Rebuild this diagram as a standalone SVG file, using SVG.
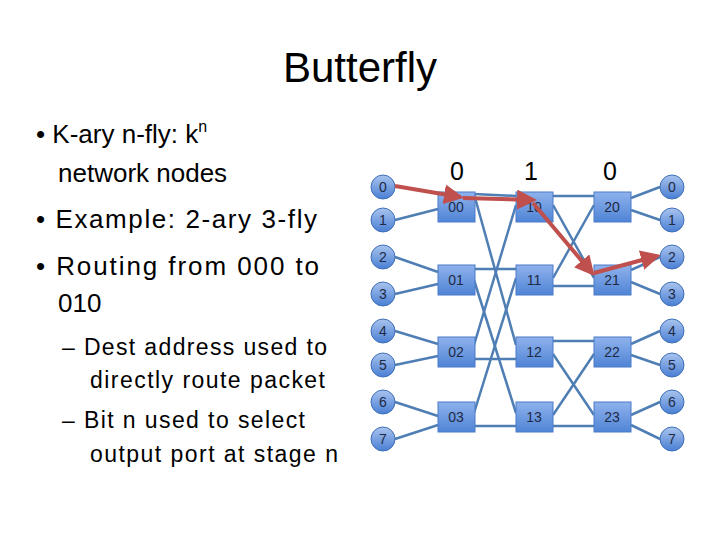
<svg xmlns="http://www.w3.org/2000/svg" width="720" height="540" viewBox="0 0 720 540">
<defs>
<linearGradient id="cg" x1="0" y1="0" x2="0" y2="1"><stop offset="0" stop-color="#a9c4ee"/><stop offset="1" stop-color="#4a7fd4"/></linearGradient>
<linearGradient id="bg" x1="0" y1="0" x2="0" y2="1"><stop offset="0" stop-color="#8fb2ec"/><stop offset="1" stop-color="#4f84d6"/></linearGradient>
<marker id="ah" viewBox="0 0 10 10" refX="8" refY="5" markerWidth="5" markerHeight="5" orient="auto"><path d="M0,0L10,5L0,10z" fill="#c0504d"/></marker>
<style>
.t{font-family:"Liberation Sans",Arial,sans-serif;fill:#000}
.c circle{fill:url(#cg);stroke:#3f6fb8;stroke-width:1}
.n rect{fill:url(#bg);stroke:#4a7bc8;stroke-width:1}
.l{font-family:"Liberation Sans",Arial,sans-serif;font-size:14px;fill:#1f2a44;text-anchor:middle}
.e line{stroke:#4f7eb4;stroke-width:2.5}
.r line{stroke:#c0504d;stroke-width:4;marker-end:url(#ah)}
</style>
</defs>
<rect width="720" height="540" fill="#fff"/>
<text class="t" x="360" y="82" font-size="42" text-anchor="middle">Butterfly</text>
<g class="t" font-size="26">
<text x="36" y="143">• K-ary n-fly: k<tspan font-size="16" dy="-11">n</tspan></text>
<text x="58" y="182">network nodes</text>
<text x="36" y="228" textLength="281">• Example: 2-ary 3-fly</text>
<text x="36" y="275" textLength="283">• Routing from 000 to</text>
<text x="58" y="312">010</text>
</g>
<g class="t" font-size="23">
<text x="62" y="355" textLength="265">– Dest address used to</text>
<text x="90" y="388" textLength="235">directly route packet</text>
<text x="62" y="428" textLength="243">– Bit n used to select</text>
<text x="90" y="462" textLength="248">output port at stage n</text>
</g>
<g class="t" font-size="25" text-anchor="middle">
<text x="457" y="180">0</text><text x="531" y="180">1</text><text x="610" y="180">0</text>
</g>
<g id="connectors">
<g class="e">
<line x1="395" y1="220" x2="438" y2="209"/>
<line x1="395" y1="257" x2="438" y2="272"/><line x1="395" y1="294" x2="438" y2="284"/>
<line x1="395" y1="331" x2="438" y2="344"/><line x1="395" y1="365" x2="438" y2="356"/>
<line x1="395" y1="402" x2="438" y2="416"/><line x1="395" y1="439" x2="438" y2="425"/>
<line x1="474" y1="194" x2="516" y2="196"/><line x1="474" y1="194" x2="516" y2="345"/>
<line x1="474" y1="269" x2="516" y2="269"/><line x1="474" y1="280" x2="516" y2="413"/>
<line x1="474" y1="345" x2="516" y2="205"/><line x1="474" y1="359" x2="516" y2="359"/>
<line x1="474" y1="413" x2="516" y2="278"/><line x1="474" y1="426" x2="516" y2="426"/>
<line x1="553" y1="196" x2="594" y2="196"/><line x1="553" y1="205" x2="594" y2="278"/>
<line x1="553" y1="278" x2="594" y2="205"/><line x1="553" y1="286" x2="594" y2="286"/>
<line x1="553" y1="341" x2="594" y2="341"/><line x1="553" y1="354" x2="594" y2="415"/>
<line x1="553" y1="415" x2="594" y2="354"/><line x1="553" y1="426" x2="594" y2="426"/>
<line x1="631" y1="198" x2="660" y2="187"/><line x1="631" y1="210" x2="660" y2="220"/>
<line x1="631" y1="270" x2="660" y2="257"/><line x1="631" y1="282" x2="660" y2="294"/>
<line x1="631" y1="344" x2="660" y2="331"/><line x1="631" y1="355" x2="660" y2="365"/>
<line x1="631" y1="415" x2="660" y2="402"/><line x1="631" y1="425" x2="660" y2="439"/>
</g>
</g>
<g class="c">
<g id="in0"><circle cx="383" cy="187" r="12"/><text class="l" x="383" y="192">0</text></g>
<g id="in1"><circle cx="383" cy="220" r="12"/><text class="l" x="383" y="225">1</text></g>
<g id="in2"><circle cx="383" cy="257" r="12"/><text class="l" x="383" y="262">2</text></g>
<g id="in3"><circle cx="383" cy="294" r="12"/><text class="l" x="383" y="299">3</text></g>
<g id="in4"><circle cx="383" cy="331" r="12"/><text class="l" x="383" y="336">4</text></g>
<g id="in5"><circle cx="383" cy="365" r="12"/><text class="l" x="383" y="370">5</text></g>
<g id="in6"><circle cx="383" cy="402" r="12"/><text class="l" x="383" y="407">6</text></g>
<g id="in7"><circle cx="383" cy="439" r="12"/><text class="l" x="383" y="444">7</text></g>
<g id="out0"><circle cx="672" cy="187" r="12"/><text class="l" x="672" y="192">0</text></g>
<g id="out1"><circle cx="672" cy="220" r="12"/><text class="l" x="672" y="225">1</text></g>
<g id="out2"><circle cx="672" cy="257" r="12"/><text class="l" x="672" y="262">2</text></g>
<g id="out3"><circle cx="672" cy="294" r="12"/><text class="l" x="672" y="299">3</text></g>
<g id="out4"><circle cx="672" cy="331" r="12"/><text class="l" x="672" y="336">4</text></g>
<g id="out5"><circle cx="672" cy="365" r="12"/><text class="l" x="672" y="370">5</text></g>
<g id="out6"><circle cx="672" cy="402" r="12"/><text class="l" x="672" y="407">6</text></g>
<g id="out7"><circle cx="672" cy="439" r="12"/><text class="l" x="672" y="444">7</text></g>
</g>
<g class="n">
<g id="n00"><rect x="438" y="192" width="37" height="30"/><text class="l" x="456" y="212">00</text></g>
<g id="n01"><rect x="438" y="265" width="37" height="30"/><text class="l" x="456" y="285">01</text></g>
<g id="n02"><rect x="438" y="337" width="37" height="30"/><text class="l" x="456" y="357">02</text></g>
<g id="n03"><rect x="438" y="402" width="37" height="30"/><text class="l" x="456" y="422">03</text></g>
<g id="n10"><rect x="516" y="192" width="37" height="30"/><text class="l" x="534" y="212">10</text></g>
<g id="n11"><rect x="516" y="265" width="37" height="30"/><text class="l" x="534" y="285">11</text></g>
<g id="n12"><rect x="516" y="337" width="37" height="30"/><text class="l" x="534" y="357">12</text></g>
<g id="n13"><rect x="516" y="402" width="37" height="30"/><text class="l" x="534" y="422">13</text></g>
<g id="n20"><rect x="594" y="192" width="37" height="30"/><text class="l" x="612" y="212">20</text></g>
<g id="n21"><rect x="594" y="265" width="37" height="30"/><text class="l" x="612" y="285">21</text></g>
<g id="n22"><rect x="594" y="337" width="37" height="30"/><text class="l" x="612" y="357">22</text></g>
<g id="n23"><rect x="594" y="402" width="37" height="30"/><text class="l" x="612" y="422">23</text></g>
</g>
<g id="route" class="r">
<line x1="395" y1="186" x2="460" y2="197"/>
<line x1="463" y1="198" x2="533" y2="200"/>
<line x1="533" y1="203" x2="592" y2="273"/>
<line x1="594" y1="273" x2="657" y2="256"/>
</g>
</svg>
